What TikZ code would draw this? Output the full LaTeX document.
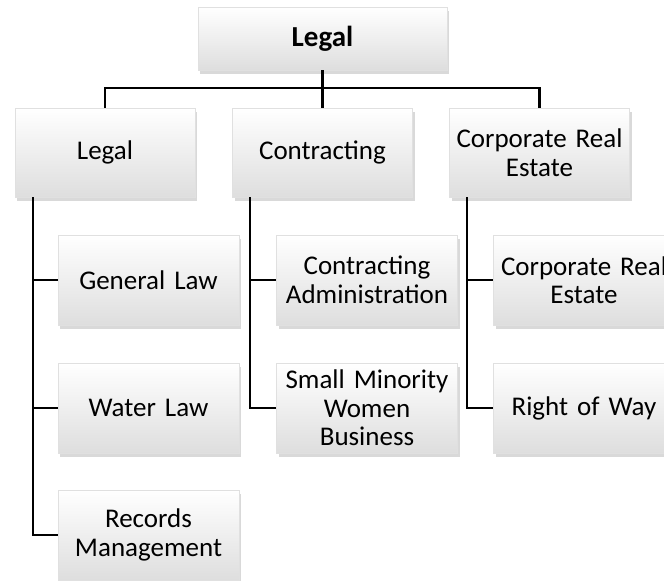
\documentclass[tikz,border=0pt]{standalone}
\usepackage{fontspec}
\setmainfont{Carlito}
\usetikzlibrary{positioning,shadows}

\begin{document}
\begin{tikzpicture}[x=1pt, y=-1pt,
    box/.style={draw=black!12, line width=0.4pt, top color=white, bottom color=black!13,
        align=center, inner sep=0pt, font=\fontsize{27}{28.5}\selectfont,
        drop shadow={shadow xshift=2pt, shadow yshift=-4pt, opacity=0.3}},
    head/.style={box, minimum width=249pt, minimum height=63pt, font=\fontsize{29}{31}\selectfont\bfseries},
    unit/.style={box, text width=176pt, minimum width=180pt, minimum height=89pt},
    leaf/.style={box, text width=176pt, minimum width=181pt, minimum height=90pt},
    conn/.style={draw, line width=2.2pt}
]
\useasboundingbox (0,0) rectangle (664,581);

% Top
\node[head] (Top) at (322.5,38.5) {Legal};

% Departments
\node[unit] (Legal) at (105,152.5) {Legal};
\node[unit] (Contracting) at (322.5,152.5) {Contracting};
\node[unit] (CorpRE) at (539.5,152.5) {Corporate Real\\Estate};

% Sections under Legal
\node[leaf] (GenLaw) at (148.5,280) {General Law};
\node[leaf] (WaterLaw) at (148.5,408) {Water Law};
\node[leaf] (Records) at (148.5,535) {Records\\Management};

% Sections under Contracting
\node[leaf] (ContAdmin) at (367,280) {Contracting\\Administration};
\node[leaf] (SmallBiz) at (367,408) {Small Minority\\Women\\Business};

% Sections under Corporate Real Estate
\node[leaf] (CorpRESub) at (584,280) {Corporate Real\\Estate};
\node[leaf] (RightWay) at (584,408) {Right of Way};

% Connectors from top
\draw[conn] (Top.south) -- ++(0,18) coordinate (bar);
\draw[conn] (bar) -| (Legal.north);
\draw[conn] (bar) -| (CorpRE.north);
\draw[conn] (bar) -- (Contracting.north);

% Connectors to sections
\foreach \dept/\kid in {Legal/GenLaw, Legal/WaterLaw, Legal/Records,
    Contracting/ContAdmin, Contracting/SmallBiz,
    CorpRE/CorpRESub, CorpRE/RightWay}
  \draw[conn] ([xshift=18pt]\dept.south west) |- (\kid.west);

\end{tikzpicture}
\end{document}
